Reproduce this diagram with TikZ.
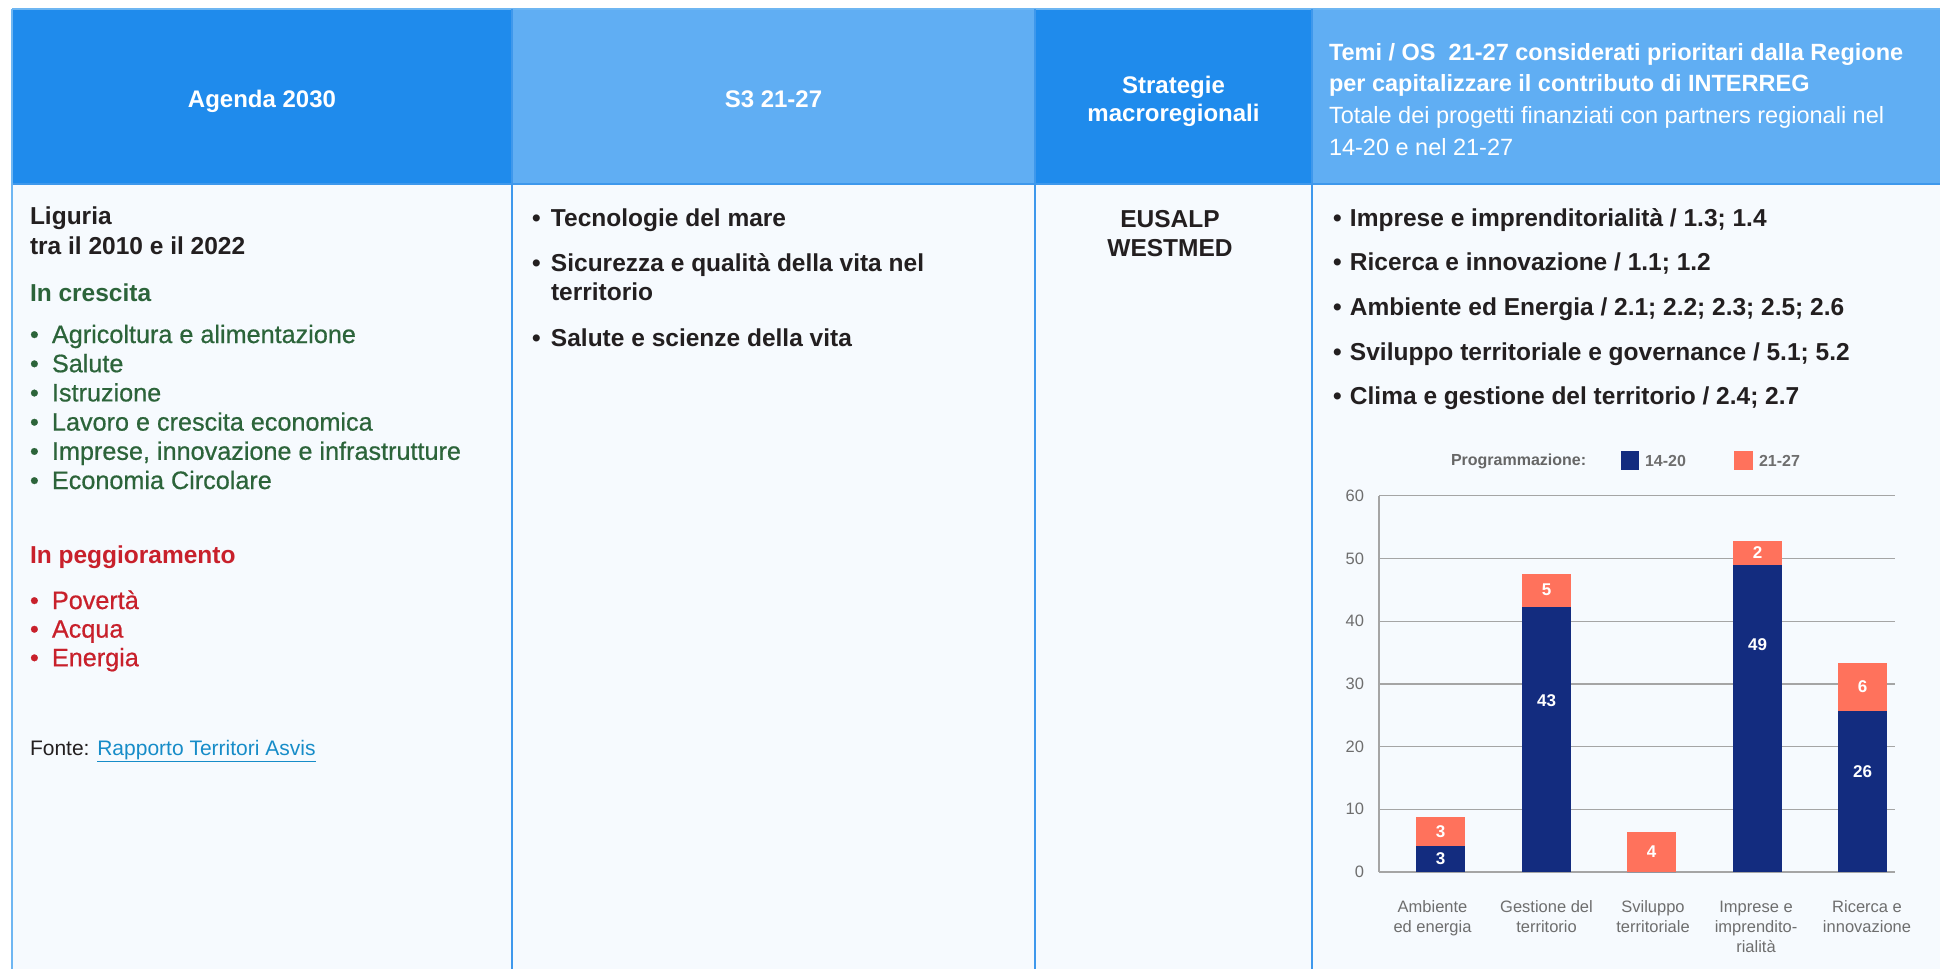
\documentclass[tikz,border=0pt]{standalone}
\usepackage{fontspec}
\setmainfont{Liberation Sans}
\newfontfamily\medfont[FakeBold=0.6]{Liberation Sans}
\definecolor{hdrdark}{RGB}{31,139,236}
\definecolor{hdrlight}{RGB}{96,174,243}
\definecolor{bodybg}{RGB}{246,250,254}
\definecolor{rulecol}{RGB}{62,152,236}
\definecolor{edgecol}{RGB}{110,182,242}
\definecolor{txt}{RGB}{35,31,32}
\definecolor{grn}{RGB}{44,100,58}
\definecolor{rd}{RGB}{200,32,43}
\definecolor{lnk}{RGB}{22,140,200}
\definecolor{navy}{RGB}{19,44,127}
\definecolor{salmon}{RGB}{255,114,92}
\definecolor{axgray}{RGB}{110,110,110}
\definecolor{gridgray}{RGB}{165,165,165}
\newcommand{\blt}[1]{\makebox[#1][l]{\textbullet}}

\begin{document}
\begin{tikzpicture}[x=1pt, y=-1pt]
		\useasboundingbox (0,0) rectangle (1940,969);
		\fill[white] (0,0) rectangle (1940,969);
		\fill[bodybg] (12,184) rectangle (1940,969);
		\fill[hdrdark] (12,9) rectangle (512,184);
		\fill[hdrlight] (512,9) rectangle (1035,184);
		\fill[hdrdark] (1035,9) rectangle (1312,184);
		\fill[hdrlight] (1312,9) rectangle (1940,184);
		\draw[edgecol, line width=1.5] (12,9) -- (1940,9);
		\draw[rulecol, line width=2.5] (12,184) -- (1940,184);
		\foreach \x in {512,1035,1312}
			\draw[rulecol, line width=1.5] (\x,9) -- (\x,969);
		\draw[edgecol, line width=2.5] (12,9) -- (12,969);

		\tikzstyle{every node} = [inner sep=0, outer sep=0]
		\tikzstyle{hd} = [text=white, font=\bfseries\fontsize{24}{29}\selectfont, anchor=base]
		\tikzstyle{hdl} = [text=white, font=\fontsize{23.5}{29}\selectfont, anchor=base west]
		\node[hd] (agenda) at (262,107.5) {Agenda 2030};
		\node[hd] (s3) at (773.5,107.5) {S3 21-27};
		\node[hd] (strat) at (1173.5,93.5) {Strategie};
		\node[hd] (macro) at (1173.5,121.5) {macroregionali};
		\node[hdl, font=\bfseries\fontsize{23.5}{29}\selectfont] (temi) at (1329,60.5) {Temi / OS\ \ 21-27 considerati prioritari dalla Regione};
		\node[hdl, font=\bfseries\fontsize{23.5}{29}\selectfont] (capit) at (1329,91.5) {per capitalizzare il contributo di INTERREG};
		\node[hdl] (tot) at (1329,123.5) {Totale dei progetti finanziati con partners regionali nel};
		\node[hdl] (per) at (1329,155.5) {14-20 e nel 21-27};

		\tikzstyle{lb} = [text=txt, font=\bfseries\fontsize{24.5}{29}\selectfont, anchor=base west]
		\tikzstyle{gi} = [text=grn, font=\medfont\fontsize{25.2}{29}\selectfont, anchor=base west]
		\tikzstyle{ri} = [text=rd, font=\medfont\fontsize{25.2}{29}\selectfont, anchor=base west]
		\node[lb] (lig) at (30,224) {Liguria};
		\node[lb] (anni) at (30,254) {tra il 2010 e il 2022};
		\node[lb, text=grn] (cresc) at (30,301) {In crescita};
		\foreach \t [count=\i] in {Agricoltura e alimentazione, Salute, Istruzione, Lavoro e crescita economica, {Imprese, innovazione e infrastrutture}, Economia Circolare}
			\node[gi] (g\i) at (30,{343+29.2*(\i-1)}) {\blt{22pt}\t};
		\node[lb, text=rd] (pegg) at (30,563) {In peggioramento};
		\foreach \t [count=\i] in {Povertà, Acqua, Energia}
			\node[ri] (r\i) at (30,{609+28.6*(\i-1)}) {\blt{22pt}\t};
		\node[lb, font=\fontsize{21}{25}\selectfont] (fonte) at (30,755) {Fonte: \textcolor{lnk}{\underline{Rapporto Territori Asvis}}};

		\tikzstyle{it} = [text=txt, font=\bfseries\fontsize{24.5}{29}\selectfont, anchor=base west]
		\node[it] (tec) at (532,226) {\blt{19pt}Tecnologie del mare};
		\node[it] (sic) at (532,271) {\blt{19pt}Sicurezza e qualità della vita nel};
		\node[it] (terr) at (551,300) {territorio};
		\node[it] (sal) at (532,346) {\blt{19pt}Salute e scienze della vita};

		\node[it, anchor=base] (eus) at (1170,227) {EUSALP};
		\node[it, anchor=base] (wes) at (1170,256) {WESTMED};

		\foreach \t [count=\i] in {Imprese e imprenditorialità / 1.3; 1.4, Ricerca e innovazione / 1.1; 1.2, Ambiente ed Energia / 2.1; 2.2; 2.3; 2.5; 2.6, Sviluppo territoriale e governance / 5.1; 5.2, Clima e gestione del territorio / 2.4; 2.7}
			\node[it] (os\i) at (1333,{226+44.7*(\i-1)}) {\blt{17pt}\t};

		\tikzstyle{gridln} = [gridgray, line width=1.3]
		\tikzstyle{ax} = [text=axgray, font=\fontsize{16.5}{20}\selectfont]
		\tikzstyle{val} = [text=white, font=\bfseries\fontsize{17}{20}\selectfont]
		\foreach \v in {0,10,...,60} {
			\draw[gridln] (1379,{872-6.27*\v}) -- (1895,{872-6.27*\v});
			\node[ax, anchor=east] (y\v) at (1364,{872-6.27*\v}) {\v};
		}
		\draw[gridln] (1379,872) -- (1379,{872-6.27*60});

		\foreach \c/\b/\o [count=\i] in {1440.5/4.1/8.8, 1546.5/42.3/47.6, 1651.5/0/6.4, 1757.5/49.0/52.8, 1862.5/25.7/33.3} {
			\fill[navy] (\c-24.5,872) rectangle (\c+24.5,{872-6.27*\b});
			\fill[salmon] (\c-24.5,{872-6.27*\b}) rectangle (\c+24.5,{872-6.27*\o});
		}
		\node[val] (a1) at (1440.5,{872-6.27*2.2}) {3};
		\node[val] (a2) at (1440.5,{872-6.27*6.45}) {3};
		\node[val] (b1) at (1546.5,{872-6.27*27.3}) {43};
		\node[val] (b2) at (1546.5,{872-6.27*45}) {5};
		\node[val] (c2) at (1651.5,{872-6.27*3.2}) {4};
		\node[val] (d1) at (1757.5,{872-6.27*36.3}) {49};
		\node[val] (d2) at (1757.5,{872-6.27*50.9}) {2};
		\node[val] (e1) at (1862.5,{872-6.27*16}) {26};
		\node[val] (e2) at (1862.5,{872-6.27*29.5}) {6};

		\node[ax, align=center, anchor=north] (amb) at (1432.5,901) {Ambiente\\ed energia};
		\node[ax, align=center, anchor=north] (ges) at (1546.5,901) {Gestione del\\territorio};
		\node[ax, align=center, anchor=north] (svi) at (1653,901) {Sviluppo\\territoriale};
		\node[ax, align=center, anchor=north] (imp) at (1756,901) {Imprese e\\imprendito-\\rialità};
		\node[ax, align=center, anchor=north] (ric) at (1867,901) {Ricerca e\\innovazione};

		\tikzstyle{leg} = [text=axgray, font=\bfseries\fontsize{16}{20}\selectfont, anchor=west]
		\node[leg, text=black!60] (prog) at (1451,461) {Programmazione:};
		\fill[navy] (1621,451) rectangle (1639,470);
		\node[leg] (k1) at (1645,461) {14-20};
		\fill[salmon] (1734,451) rectangle (1753,470);
		\node[leg] (k2) at (1759,461) {21-27};
\end{tikzpicture}
\end{document}
